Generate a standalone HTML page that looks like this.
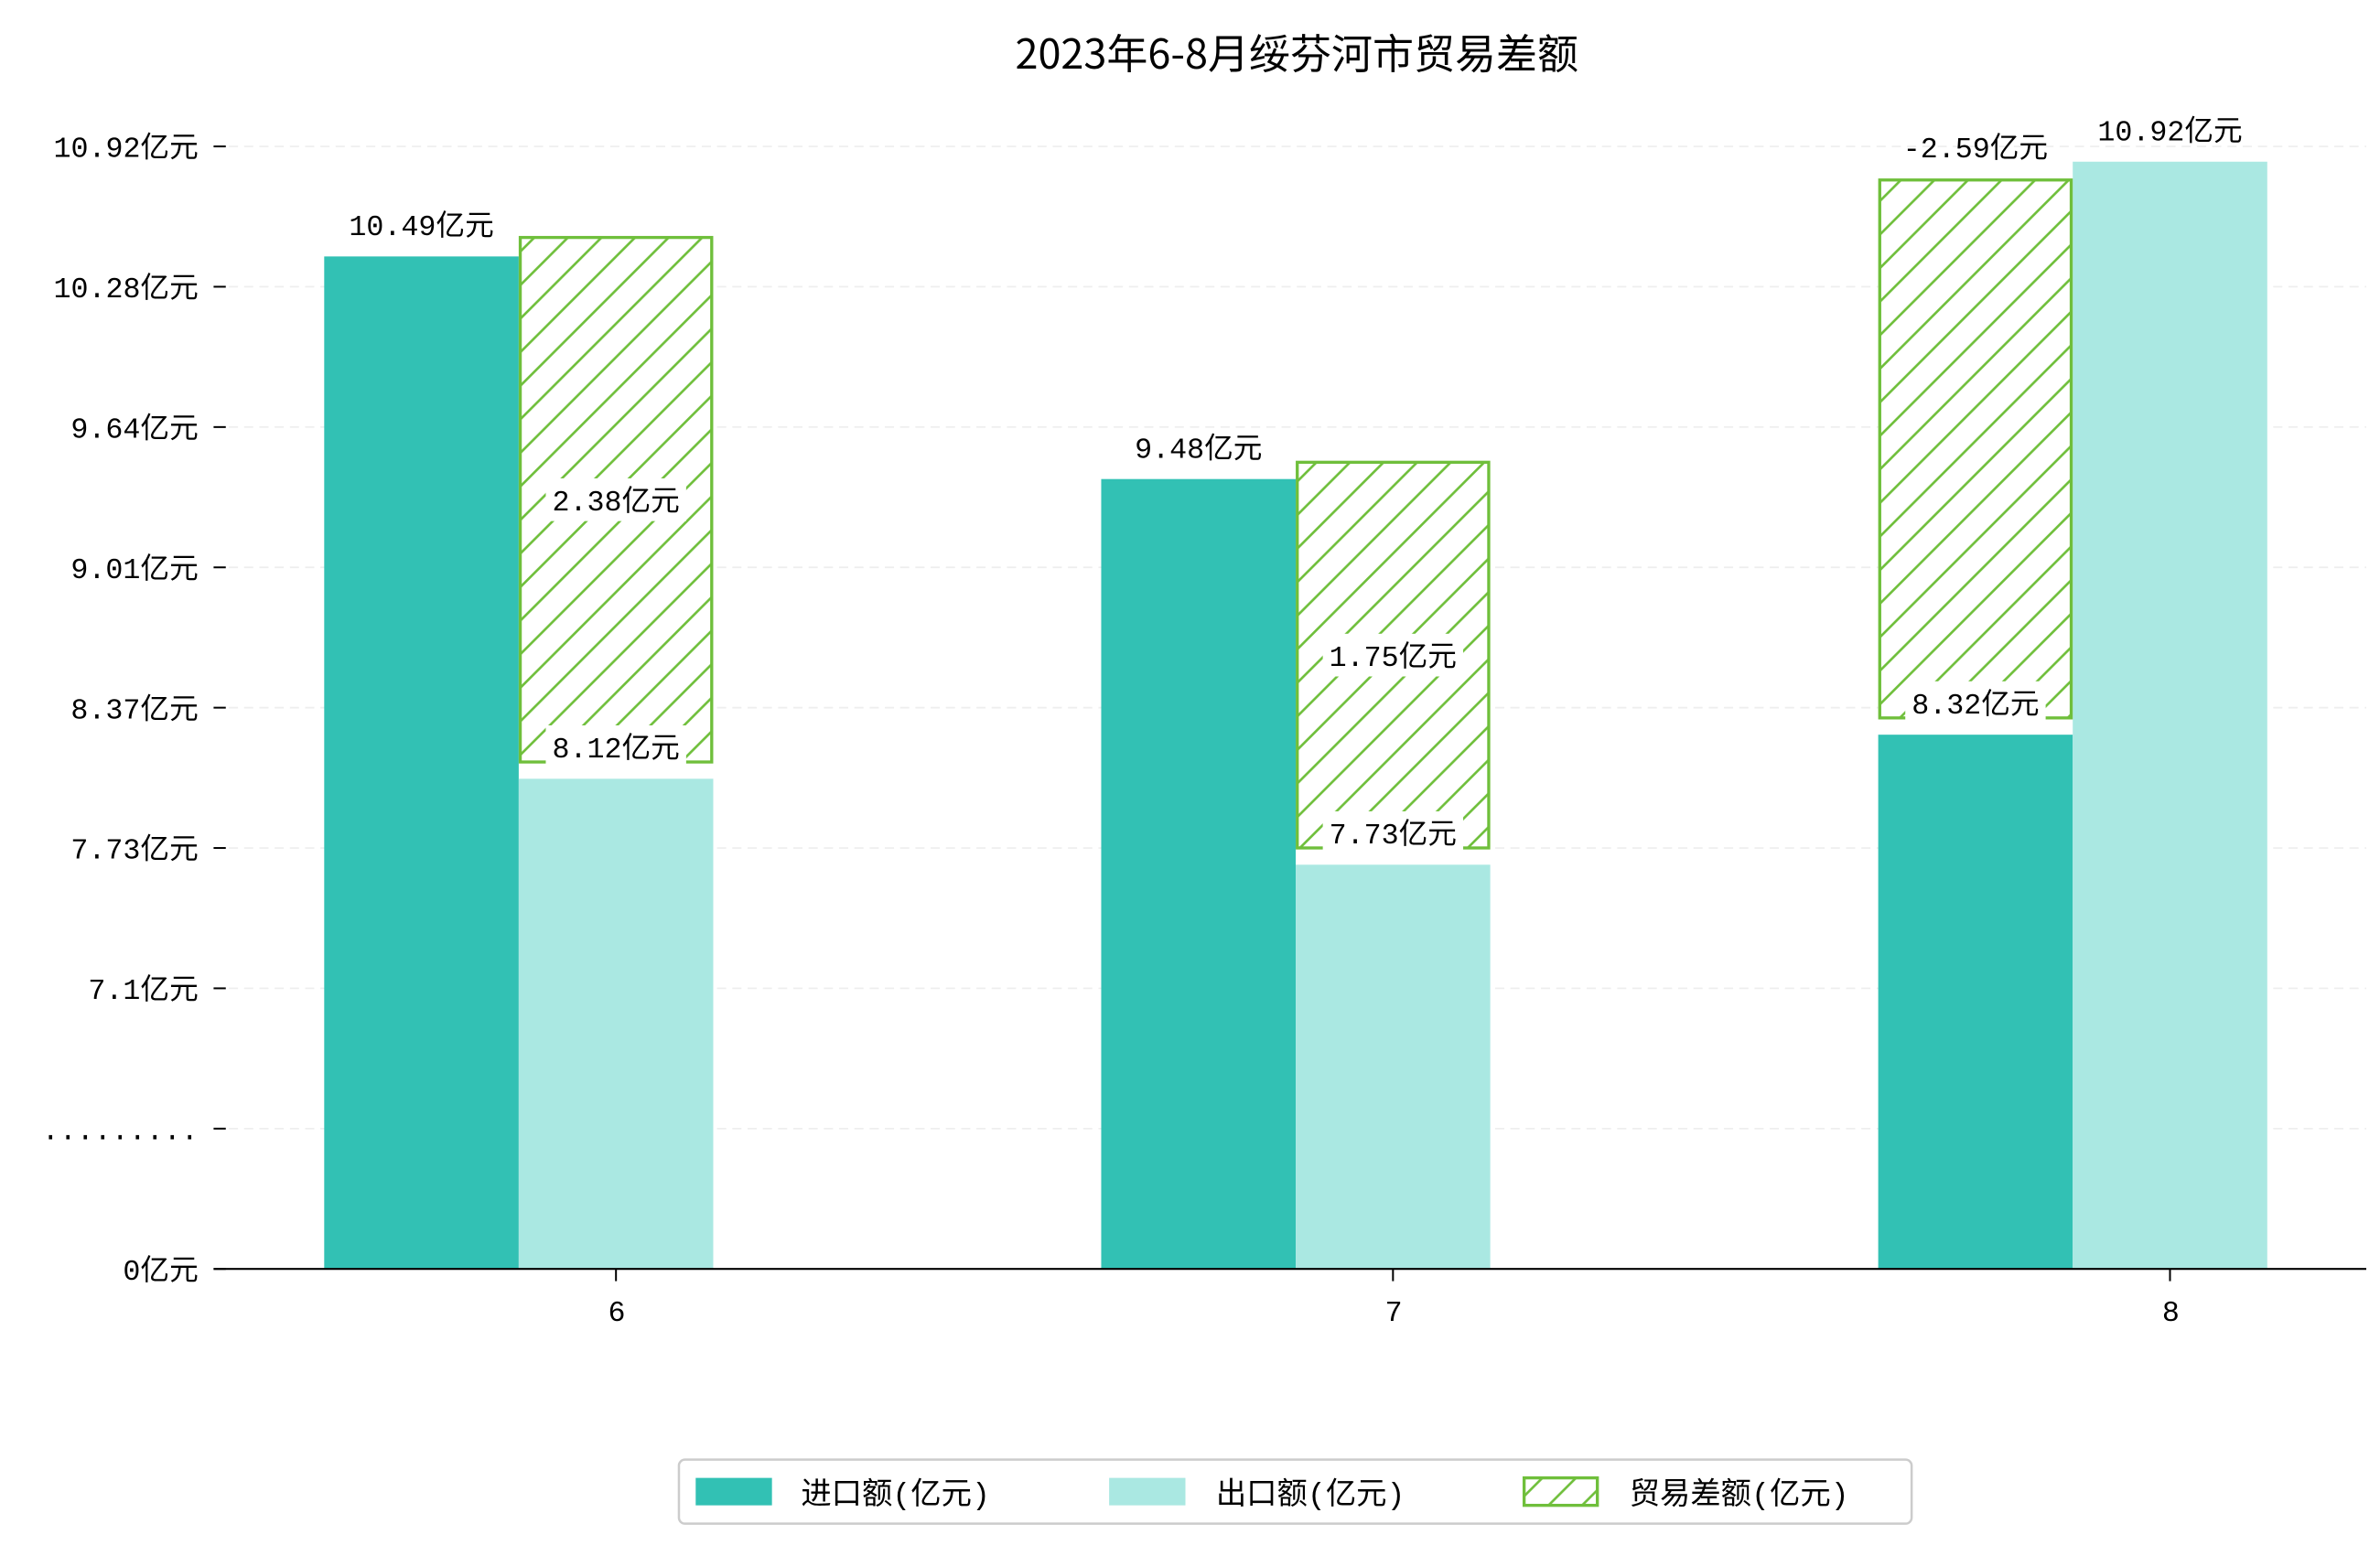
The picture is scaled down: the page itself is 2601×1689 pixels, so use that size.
<!DOCTYPE html>
<html><head><meta charset="utf-8">
<style>
html,body{margin:0;padding:0;background:#fff;}
svg{display:block;}
text{font-family:"Liberation Mono","Noto Sans CJK SC",monospace;fill:#000;}
</style></head>
<body>
<svg id="chart" width="2601" height="1689" viewBox="0 0 1560 1013" preserveAspectRatio="none" xmlns="http://www.w3.org/2000/svg">
<defs>
<pattern id="hatch" patternUnits="userSpaceOnUse" width="22" height="22">
<rect width="22" height="22" fill="#fff"/>
<path d="M-2,24 L24,-2 M-13,13 L13,-13 M9,35 L35,9" stroke="#6fbf3b" stroke-width="1.6"/>
</pattern>
</defs>
<text x="850" y="45" font-size="27" text-anchor="middle" style="font-family:'Noto Sans CJK SC',sans-serif">2023年6-8月绥芬河市贸易差额</text>
<g id="grid"></g>
<g id="bars"></g>
<g id="labels"></g>
<line x1="140" y1="832" x2="1551" y2="832" stroke="#000" stroke-width="1.3"/>
<g>
<rect x="445" y="957" width="808" height="42" rx="4" fill="#fff" stroke="#ccc" stroke-width="1.5"/>
<rect x="456" y="969" width="50" height="18" fill="#32c1b4"/>
<text x="525" y="986" font-size="20">进口额(亿元)</text>
<rect x="727" y="969" width="50" height="18" fill="#aae8e2"/>
<text x="797" y="986" font-size="20">出口额(亿元)</text>
<rect x="999" y="969" width="48" height="18" fill="url(#hatch)" stroke="#6fbf3b" stroke-width="2"/>
<text x="1068" y="986" font-size="20">贸易差额(亿元)</text>
</g>
</svg>
<script>
const months = ['6','7','8'];
const importVals = [10.49, 9.48, 8.32];
const exportVals = [8.12, 7.73, 10.92];
const diffVals = [2.38, 1.75, -2.59];
const tickLabels = ['0亿元','.........','7.1亿元','7.73亿元','8.37亿元','9.01亿元','9.64亿元','10.28亿元','10.92亿元'];

const NS='http://www.w3.org/2000/svg';
const gGrid=document.getElementById('grid'), gBars=document.getElementById('bars'), gLab=document.getElementById('labels');
function yv(v){ return v<=0 ? 832 : 658 - (v-7.1)*144.5; }
function xc(i){ return 340 + i*509.3; }
const BW=127.5;
function mk(tag,attrs,parent){const e=document.createElementNS(NS,tag);for(const k in attrs)e.setAttribute(k,attrs[k]);parent.appendChild(e);return e;}

tickLabels.forEach((t,i)=>{
  const y=832-92*i;
  if(i>0){
    const g=mk('line',{x1:140,x2:1551,y1:y,y2:y,stroke:'#eee','stroke-dasharray':'6,4','stroke-width':1},gGrid);
    
    
  }
  const tk=mk('line',{x1:140,x2:148,y1:y,y2:y,stroke:'#000','stroke-width':1.2},gGrid);
  
  
  const tx=mk('text',{x:130,y:y+7,'font-size':19,'text-anchor':'end'},gGrid);
  tx.textContent=t;
  
  
});

function label(x,y,txt,box,name){
  if(box){
    const w=txt.length*11+26;
    const r=mk('rect',{x:x-w/2,y:y-14,width:w,height:28,fill:'#fff'},gLab);
    
    
  }
  const t=mk('text',{x:x,y:y+7,'font-size':19,'text-anchor':'middle'},gLab);
  t.textContent=txt;
  
  
}

months.forEach((m,i)=>{
  const c=xc(i);
  const iv=importVals[i], ev=exportVals[i], dv=diffVals[i];
  const ri=mk('rect',{x:c-BW,y:yv(iv),width:BW,height:832-yv(iv),fill:'#32c1b4'},gBars);
  
  
  const re=mk('rect',{x:c,y:yv(ev),width:BW,height:832-yv(ev),fill:'#aae8e2'},gBars);
  
  
  const hi=Math.max(iv,ev), lo=Math.min(iv,ev);
  const dx = ev<iv ? c : c-BW;
  const bot=yv(lo)-11;
  const top = dv>=0 ? bot-dv*144.5 : yv(hi)+12;
  const rd=mk('rect',{x:dx+1,y:top,width:BW-2,height:bot-top,fill:'url(#hatch)',stroke:'#6fbf3b','stroke-width':2},gBars);
  
  
  const fmt=v=>String(v)+'亿元';
  if(iv>=ev){
    label(c-BW/2,yv(iv)-21,fmt(iv),false,'label-import-'+m);
    label(c+BW/2,yv(ev)-21,fmt(ev),true,'label-export-'+m);
  } else {
    label(c+BW/2,yv(ev)-21,fmt(ev),false,'label-export-'+m);
    label(c-BW/2,yv(iv)-21,fmt(iv),true,'label-import-'+m);
  }
  if(dv>=0) label(dx+BW/2,(top+bot)/2,fmt(dv),true,'label-diff-'+m);
  else label(dx+BW/2,top-22,fmt(dv),false,'label-diff-'+m);
  const xt=mk('line',{x1:c+BW/2,x2:c+BW/2,y1:832,y2:840,stroke:'#000','stroke-width':1.2},gGrid);
  
  
  const xl=mk('text',{x:c+BW/2+0.5,y:866,'font-size':19,'text-anchor':'middle'},gGrid);
  xl.textContent=m;
  
  
});
</script>
</body></html>
